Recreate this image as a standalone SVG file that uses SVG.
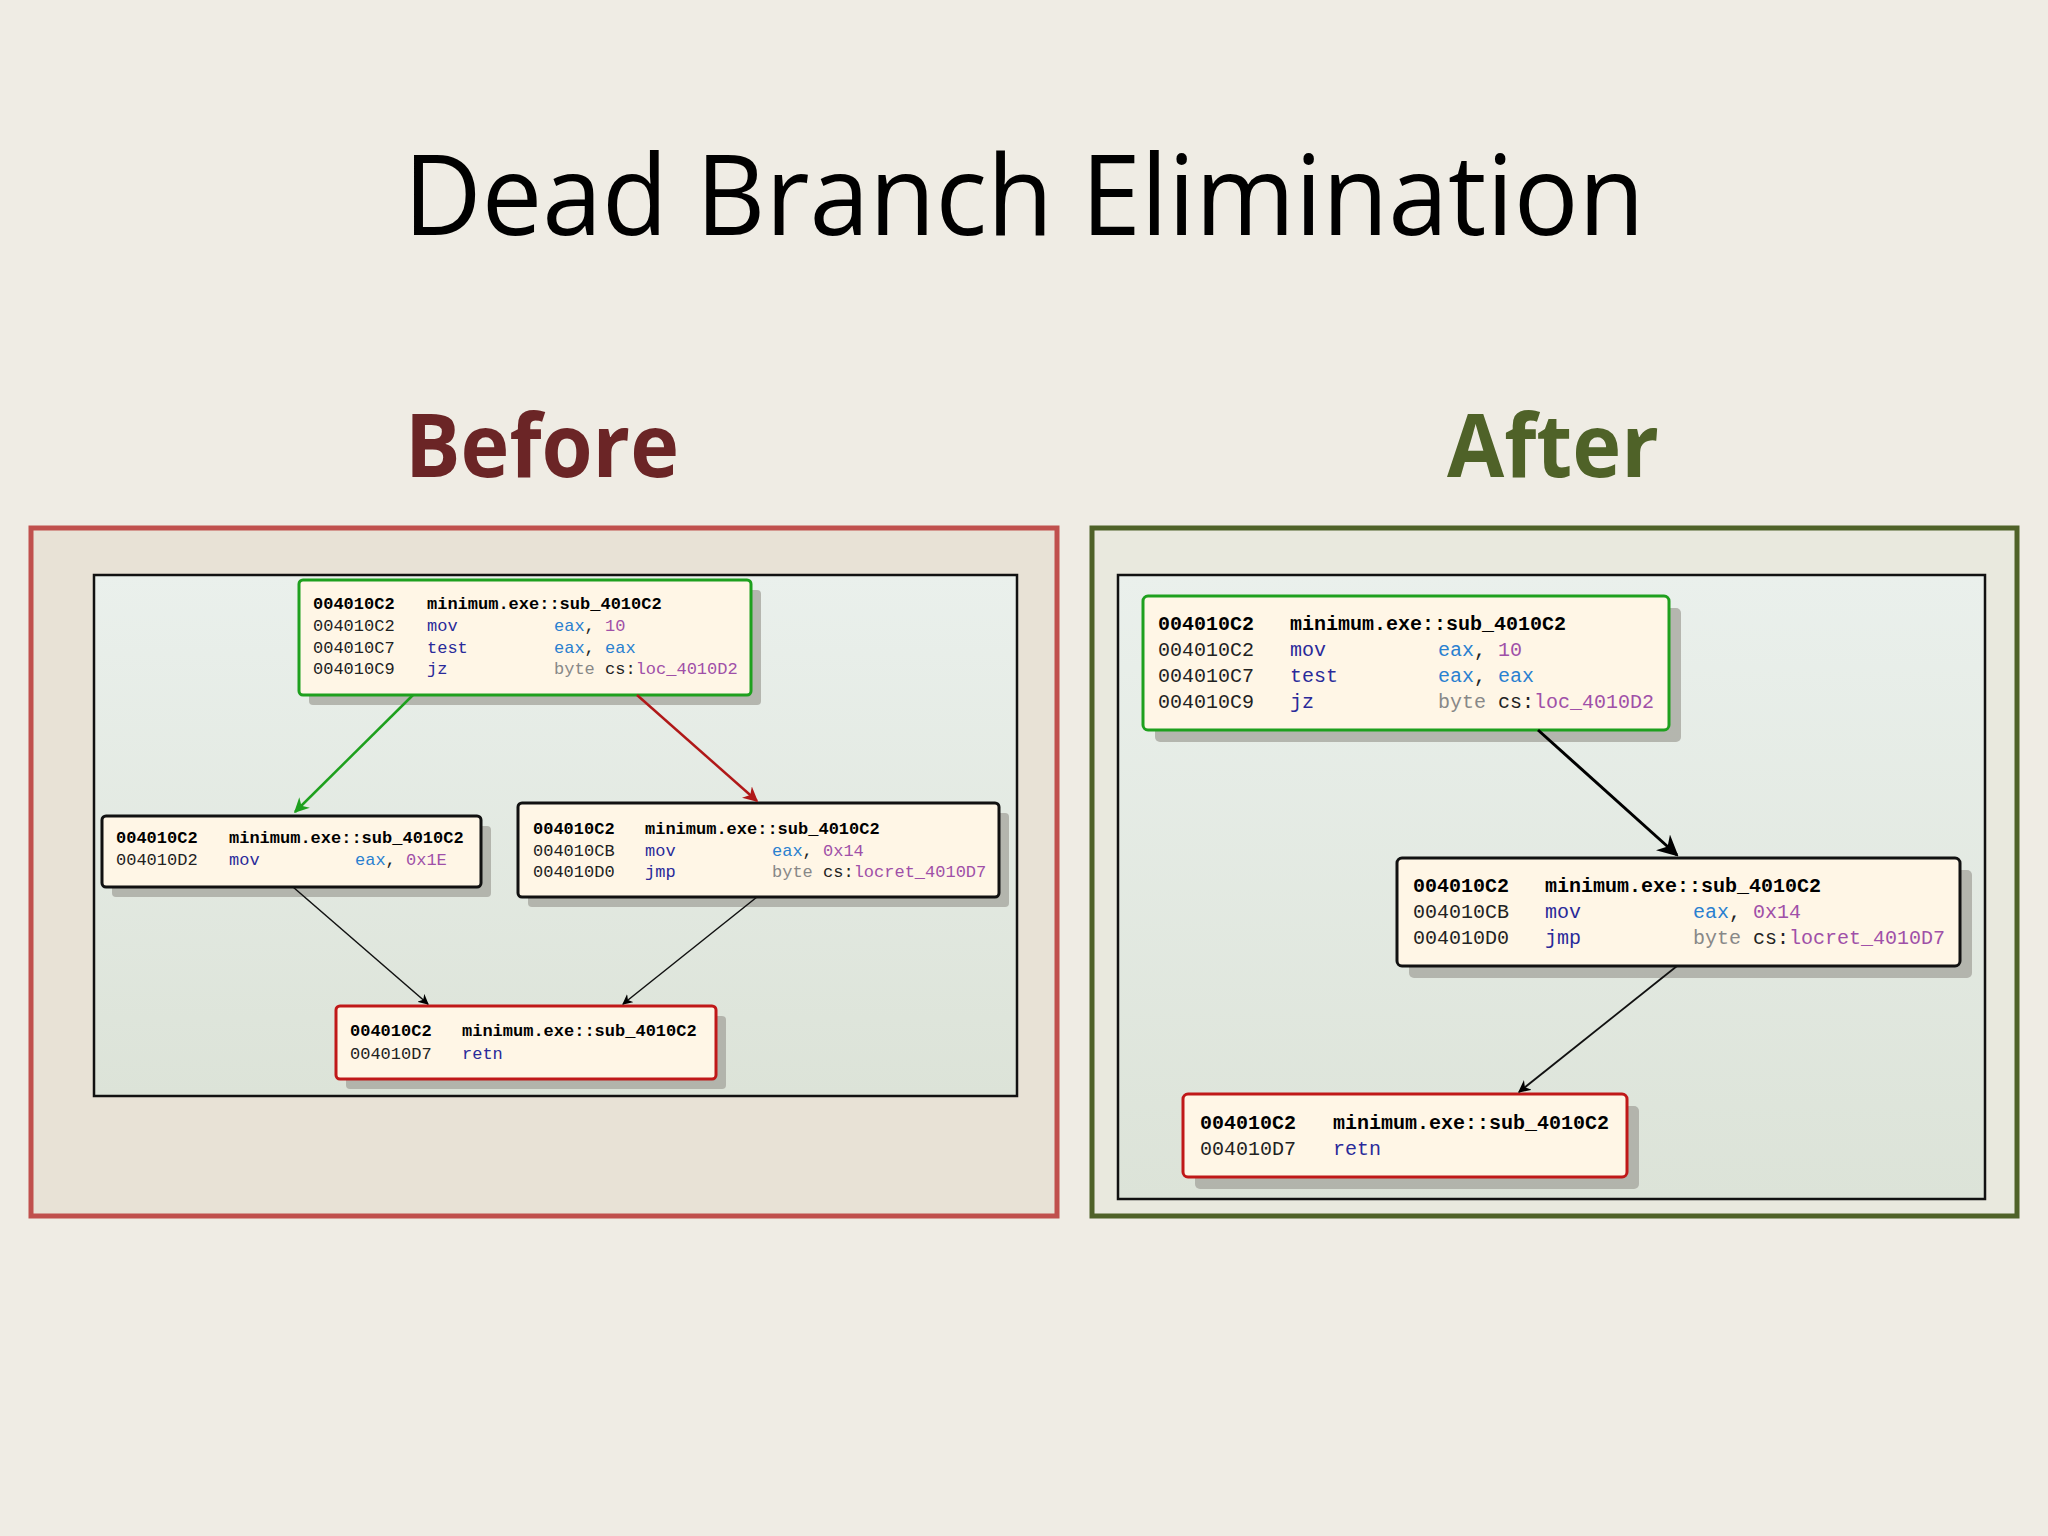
<svg xmlns="http://www.w3.org/2000/svg" width="2048" height="1536" viewBox="0 0 2048 1536">
<defs>
<linearGradient id="pg" x1="0" y1="0" x2="0" y2="1"><stop offset="0" stop-color="#EAF0EC"/><stop offset="1" stop-color="#DCE3D8"/></linearGradient>
<marker id="ah" viewBox="0 0 10 10" refX="9" refY="5" markerWidth="7" markerHeight="7" orient="auto"><path d="M0,0L10,5L0,10L3,5z" fill="#000"/></marker>
<marker id="ahg" viewBox="0 0 10 10" refX="9" refY="5" markerWidth="6" markerHeight="6" orient="auto"><path d="M0,0L10,5L0,10L3,5z" fill="#1EA01E"/></marker>
<marker id="ahr" viewBox="0 0 10 10" refX="9" refY="5" markerWidth="6" markerHeight="6" orient="auto"><path d="M0,0L10,5L0,10L3,5z" fill="#B01818"/></marker>
</defs>
<style>
.n{fill:#FFF6E6;stroke-width:3}
.sh{fill:#A8A8A0;opacity:.8}
.g{stroke:#1EA01E}.r{stroke:#C01818}.k{stroke:#111}
text{font-family:"Liberation Mono","DejaVu Sans Mono",monospace}
.s{font-size:17px}.b{font-size:20px}
.h{font-weight:bold;fill:#000}
.m{fill:#2A2A9A}.rg{fill:#2A80D0}.v{fill:#A050A8}.y{fill:#888}.a{fill:#222}
.hd{font-family:"Open Sans",Lato,sans-serif;font-size:88px;font-weight:bold}
</style>
<rect width="2048" height="1536" fill="#EFECE4"/>
<text x="1024" y="235" text-anchor="middle" style="font-family:'Open Sans',Lato,sans-serif;font-size:112px" fill="#000" textLength="1241" lengthAdjust="spacingAndGlyphs">Dead Branch Elimination</text>
<text x="405" y="477" class="hd" fill="#6B2526" textLength="274" lengthAdjust="spacingAndGlyphs">Before</text>
<text x="1447" y="477" class="hd" fill="#4F6228" textLength="212" lengthAdjust="spacingAndGlyphs">After</text>
<rect x="31" y="528" width="1026" height="688" fill="#E8E2D6" stroke="#C0504D" stroke-width="5"/>
<rect x="1092" y="528" width="925" height="688" fill="#E9E9DE" stroke="#4F6228" stroke-width="5"/>
<rect x="94" y="575" width="923" height="521" fill="url(#pg)" stroke="#111" stroke-width="2.5"/>
<rect x="1118" y="575" width="867" height="624" fill="url(#pg)" stroke="#111" stroke-width="2.5"/>

<g id="L1" class="s">
<rect class="sh" x="309" y="590" width="452" height="115" rx="4"/>
<rect class="n g" x="299" y="580" width="452" height="115" rx="4"/>
<text x="313" y="609" class="h">004010C2</text><text x="427" y="609" class="h">minimum.exe::sub_4010C2</text>
<text x="313" y="631" class="a">004010C2</text><text x="427" y="631" class="m">mov</text><text x="554" y="631"><tspan class="rg">eax</tspan><tspan class="a">, </tspan><tspan class="v">10</tspan></text>
<text x="313" y="653" class="a">004010C7</text><text x="427" y="653" class="m">test</text><text x="554" y="653"><tspan class="rg">eax</tspan><tspan class="a">, </tspan><tspan class="rg">eax</tspan></text>
<text x="313" y="674" class="a">004010C9</text><text x="427" y="674" class="m">jz</text><text x="554" y="674"><tspan class="y">byte </tspan><tspan class="a">cs:</tspan><tspan class="v">loc_4010D2</tspan></text>
</g>
<g id="L2" class="s">
<rect class="sh" x="112" y="826" width="379" height="71" rx="4"/>
<rect class="n k" x="102" y="816" width="379" height="71" rx="4"/>
<text x="116" y="843" class="h">004010C2</text><text x="229" y="843" class="h">minimum.exe::sub_4010C2</text>
<text x="116" y="865" class="a">004010D2</text><text x="229" y="865" class="m">mov</text><text x="355" y="865"><tspan class="rg">eax</tspan><tspan class="a">, </tspan><tspan class="v">0x1E</tspan></text>
</g>
<g id="L3" class="s">
<rect class="sh" x="528" y="813" width="481" height="94" rx="4"/>
<rect class="n k" x="518" y="803" width="481" height="94" rx="4"/>
<text x="533" y="834" class="h">004010C2</text><text x="645" y="834" class="h">minimum.exe::sub_4010C2</text>
<text x="533" y="856" class="a">004010CB</text><text x="645" y="856" class="m">mov</text><text x="772" y="856"><tspan class="rg">eax</tspan><tspan class="a">, </tspan><tspan class="v">0x14</tspan></text>
<text x="533" y="877" class="a">004010D0</text><text x="645" y="877" class="m">jmp</text><text x="772" y="877"><tspan class="y">byte </tspan><tspan class="a">cs:</tspan><tspan class="v">locret_4010D7</tspan></text>
</g>
<g id="L4" class="s">
<rect class="sh" x="346" y="1016" width="380" height="73" rx="4"/>
<rect class="n r" x="336" y="1006" width="380" height="73" rx="4"/>
<text x="350" y="1036" class="h">004010C2</text><text x="462" y="1036" class="h">minimum.exe::sub_4010C2</text>
<text x="350" y="1059" class="a">004010D7</text><text x="462" y="1059" class="m">retn</text>
</g>

<g id="R1" class="b">
<rect class="sh" x="1155" y="608" width="526" height="134" rx="5"/>
<rect class="n g" x="1143" y="596" width="526" height="134" rx="5"/>
<text x="1158" y="630" class="h">004010C2</text><text x="1290" y="630" class="h">minimum.exe::sub_4010C2</text>
<text x="1158" y="656" class="a">004010C2</text><text x="1290" y="656" class="m">mov</text><text x="1438" y="656"><tspan class="rg">eax</tspan><tspan class="a">, </tspan><tspan class="v">10</tspan></text>
<text x="1158" y="682" class="a">004010C7</text><text x="1290" y="682" class="m">test</text><text x="1438" y="682"><tspan class="rg">eax</tspan><tspan class="a">, </tspan><tspan class="rg">eax</tspan></text>
<text x="1158" y="708" class="a">004010C9</text><text x="1290" y="708" class="m">jz</text><text x="1438" y="708"><tspan class="y">byte </tspan><tspan class="a">cs:</tspan><tspan class="v">loc_4010D2</tspan></text>
</g>
<g id="R2" class="b">
<rect class="sh" x="1409" y="870" width="563" height="108" rx="5"/>
<rect class="n k" x="1397" y="858" width="563" height="108" rx="5"/>
<text x="1413" y="892" class="h">004010C2</text><text x="1545" y="892" class="h">minimum.exe::sub_4010C2</text>
<text x="1413" y="918" class="a">004010CB</text><text x="1545" y="918" class="m">mov</text><text x="1693" y="918"><tspan class="rg">eax</tspan><tspan class="a">, </tspan><tspan class="v">0x14</tspan></text>
<text x="1413" y="944" class="a">004010D0</text><text x="1545" y="944" class="m">jmp</text><text x="1693" y="944"><tspan class="y">byte </tspan><tspan class="a">cs:</tspan><tspan class="v">locret_4010D7</tspan></text>
</g>
<g id="R3" class="b">
<rect class="sh" x="1195" y="1106" width="444" height="83" rx="5"/>
<rect class="n r" x="1183" y="1094" width="444" height="83" rx="5"/>
<text x="1200" y="1129" class="h">004010C2</text><text x="1333" y="1129" class="h">minimum.exe::sub_4010C2</text>
<text x="1200" y="1155" class="a">004010D7</text><text x="1333" y="1155" class="m">retn</text>
</g>

<g id="connectors" fill="none">
<line x1="413" y1="695" x2="295" y2="812" stroke="#1EA01E" stroke-width="2.5" marker-end="url(#ahg)"/>
<line x1="637" y1="695" x2="757" y2="801" stroke="#B01818" stroke-width="2.5" marker-end="url(#ahr)"/>
<line x1="293" y1="887" x2="428" y2="1004" stroke="#111" stroke-width="1.5" marker-end="url(#ah)"/>
<line x1="757" y1="897" x2="623" y2="1004" stroke="#111" stroke-width="1.5" marker-end="url(#ah)"/>
<line x1="1538" y1="730" x2="1677" y2="855" stroke="#000" stroke-width="3" marker-end="url(#ah)"/>
<line x1="1677" y1="966" x2="1519" y2="1092" stroke="#111" stroke-width="1.8" marker-end="url(#ah)"/>
</g>
</svg>
